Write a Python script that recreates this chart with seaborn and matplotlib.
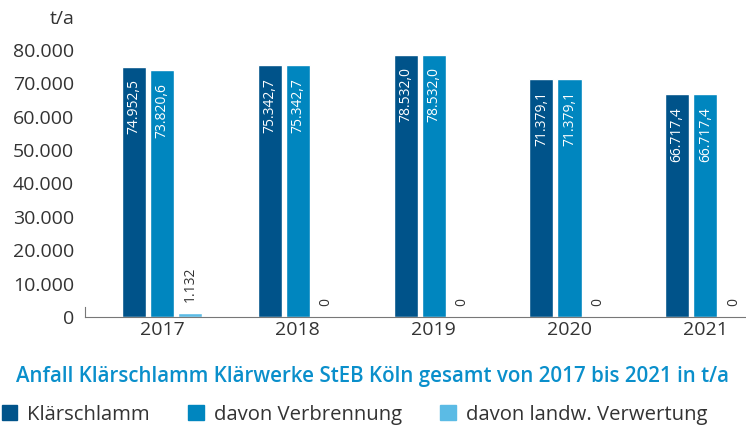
import matplotlib
matplotlib.use("Agg")
import matplotlib.pyplot as plt
from matplotlib.ticker import FuncFormatter
from matplotlib.patches import Patch
import seaborn as sns
import pandas as pd

years = ["2017", "2018", "2019", "2020", "2021"]
series = ["Klärschlamm", "davon Verbrennung", "davon landw. Verwertung"]
klaerschlamm = [74952.5, 75342.7, 78532.0, 71379.1, 66717.4]
verbrennung = [73820.6, 75342.7, 78532.0, 71379.1, 66717.4]
landw = [1132, 0, 0, 0, 0]
colors = ["#00538a", "#0086bf", "#5bbbe5"]

rows = []
for name, vals in zip(series, [klaerschlamm, verbrennung, landw]):
    for y, v in zip(years, vals):
        rows.append({"Jahr": y, "Serie": name, "Wert": v})
df = pd.DataFrame(rows)

sns.set_style("white")
plt.rcParams["font.family"] = ["Open Sans", "DejaVu Sans"]

fig = plt.figure(figsize=(7.46, 4.30), dpi=100)
ax = fig.add_axes([0.114, 0.263, 0.886, 0.66])

sns.barplot(data=df, x="Jahr", y="Wert", hue="Serie", palette=colors,
            width=0.62, gap=0.14, ax=ax, legend=False, saturation=1)

ax.set_xlim(-0.567, 4.30)
ax.set_ylim(0, 85000)
ax.set_yticks(range(0, 80001, 10000))
ax.yaxis.set_major_formatter(FuncFormatter(lambda v, p: f"{int(v):,}".replace(",", ".")))
ax.tick_params(axis="both", length=0, labelsize=14, colors="#333333")
ax.tick_params(axis="y", pad=8)
ax.tick_params(axis="x", pad=3)
ax.set_xlabel("")
ax.set_ylabel("")
for s in ["top", "right"]:
    ax.spines[s].set_visible(False)
ax.spines["left"].set_bounds(0, 3000)
ax.spines["left"].set_color("#777777")
ax.spines["bottom"].set_color("#777777")

def de(v):
    if v == 0:
        return "0"
    if v == int(v) and v < 10000:
        return f"{int(v):,}".replace(",", ".")
    return f"{v:,.1f}".replace(",", "X").replace(".", ",").replace("X", ".")

for cont in ax.containers:
    for bar in cont:
        h = bar.get_height()
        x = bar.get_x() + bar.get_width() / 2
        if h > 10000:
            ax.annotate(de(h), (x, h), xytext=(0, -9), textcoords="offset points",
                        rotation=90, ha="center", va="top", color="white", fontsize=10)
        else:
            ax.annotate(de(h), (x, h), xytext=(0, 8), textcoords="offset points",
                        rotation=90, ha="center", va="bottom", color="#333333", fontsize=10)

fig.text(0.10, 0.955, "t/a", ha="right", va="center", fontsize=14, color="#333333")
fig.text(0.50, 0.124, "Anfall Klärschlamm Klärwerke StEB Köln gesamt von 2017 bis 2021 in t/a",
         ha="center", va="center", fontsize=14.8, color="#0a8fcb", fontweight="semibold")

handles = [Patch(color=c, label=s) for c, s in zip(colors, series)]
fig.legend(handles=handles, loc="center left", bbox_to_anchor=(-0.022, 0.035), ncol=3,
           frameon=False, fontsize=14.6, handlelength=0.75, handleheight=0.75,
           handletextpad=0.5, columnspacing=1.9, labelcolor="#333333")

fig.savefig("out.png", dpi=100)
